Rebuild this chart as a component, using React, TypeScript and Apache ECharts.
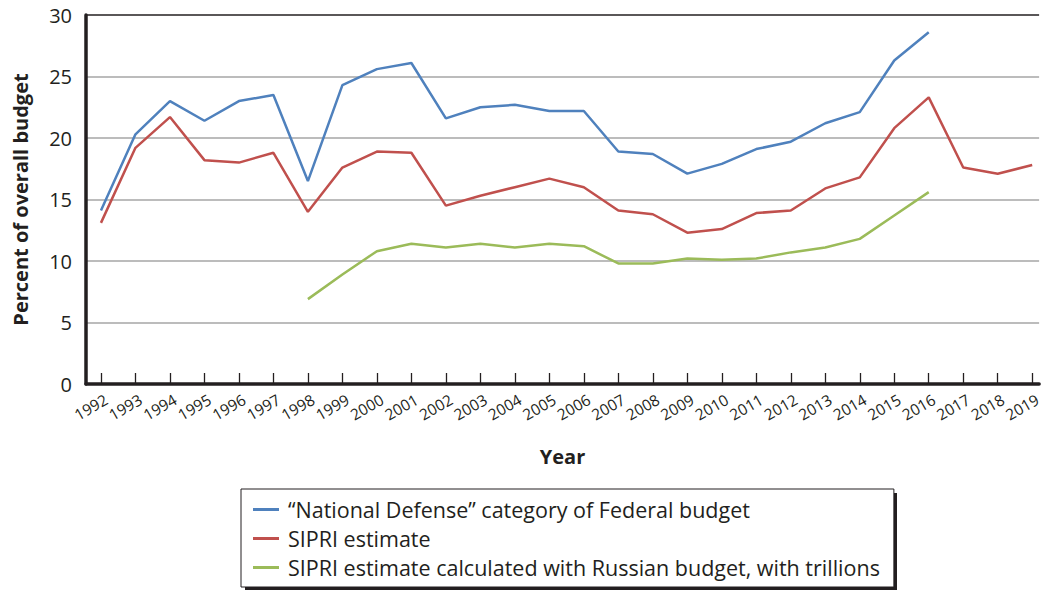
import React, { useEffect, useRef } from "react";
import * as echarts from "echarts";

const years = [
  1992, 1993, 1994, 1995, 1996, 1997, 1998, 1999, 2000, 2001, 2002, 2003, 2004, 2005,
  2006, 2007, 2008, 2009, 2010, 2011, 2012, 2013, 2014, 2015, 2016, 2017, 2018, 2019,
];

const nationalDefense = [
  14.1, 20.3, 23.0, 21.4, 23.0, 23.5, 16.5, 24.3, 25.6, 26.1, 21.6, 22.5, 22.7, 22.2,
  22.2, 18.9, 18.7, 17.1, 17.9, 19.1, 19.7, 21.2, 22.1, 26.3, 28.6, null, null, null,
];

const sipri = [
  13.1, 19.2, 21.7, 18.2, 18.0, 18.8, 14.0, 17.6, 18.9, 18.8, 14.5, 15.3, 16.0, 16.7,
  16.0, 14.1, 13.8, 12.3, 12.6, 13.9, 14.1, 15.9, 16.8, 20.8, 23.3, 17.6, 17.1, 17.8,
];

const sipriRussian = [
  null, null, null, null, null, null, 6.9, 8.9, 10.8, 11.4, 11.1, 11.4, 11.1, 11.4,
  11.2, 9.8, 9.8, 10.2, 10.1, 10.2, 10.7, 11.1, 11.8, 13.7, 15.6, null, null, null,
];

const seriesNames = [
  "\u201CNational Defense\u201D category of Federal budget",
  "SIPRI estimate",
  "SIPRI estimate calculated with Russian budget, with trillions",
];
const seriesColors = ["#4f81bd", "#c0504d", "#9bbb59"];
const yTicks = [0, 5, 10, 15, 20, 25, 30];

const FONT = "'Open Sans', 'Noto Sans', sans-serif";
const DARK = "#231f20";

export default function App() {
  const ref = useRef<HTMLDivElement>(null);

  useEffect(() => {
    if (!ref.current) return;
    const chart = echarts.init(ref.current, null, { renderer: "svg" });
    const allSeries = [nationalDefense, sipri, sipriRussian];
    chart.setOption({
      animation: false,
      textStyle: { fontFamily: FONT },
      grid: { left: 86, right: 2, top: 15, bottom: 206 },
      xAxis: {
        type: "value",
        min: 1991.566,
        max: 2019.2,
        name: "Year",
        nameLocation: "middle",
        nameGap: 62,
        nameTextStyle: { fontSize: 20, fontWeight: "bold", color: DARK, fontFamily: FONT },
        axisLine: { onZero: false, lineStyle: { color: DARK, width: 3.5 } },
        axisTick: {
          show: true,
          inside: true,
          length: 11,
          customValues: years,
          lineStyle: { color: DARK, width: 1.3 },
        },
        axisLabel: {
          customValues: years,
          rotate: 30,
          fontSize: 15.5,
          color: DARK,
          margin: 17,
          fontFamily: FONT,
          padding: [0, -6, 0, 0],
          formatter: (v: number) => String(Math.round(v)),
        },
        splitLine: { show: false },
      },
      yAxis: {
        type: "value",
        min: yTicks[0],
        max: yTicks[yTicks.length - 1],
        interval: 5,
        name: "Percent of overall budget",
        nameLocation: "middle",
        nameGap: 56,
        nameTextStyle: { fontSize: 20, fontWeight: "bold", color: DARK, fontFamily: FONT },
        axisLine: { show: true, onZero: false, lineStyle: { color: DARK, width: 3.5 } },
        axisTick: { show: false },
        axisLabel: { fontSize: 20, color: DARK, margin: 14, fontFamily: FONT },
        splitLine: {
          show: true,
          lineStyle: {
            color: ["#a6a6a6", "#a6a6a6", "#a6a6a6", "#a6a6a6", "#a6a6a6", "#a6a6a6", DARK],
            width: 1.5,
          },
        },
      },
      legend: {
        orient: "vertical",
        left: 241,
        top: 489,
        padding: [7, 14, 6, 12],
        itemWidth: 26,
        itemHeight: 3,
        itemGap: 2,
        icon: "rect",
        backgroundColor: "#fff",
        borderColor: DARK,
        borderWidth: 1,
        z: 5,
        textStyle: {
          fontSize: 21.5,
          color: DARK,
          lineHeight: 27,
          fontFamily: FONT,
          padding: [0, 0, 0, 4],
        },
        data: seriesNames,
      },
      graphic: [
        {
          type: "rect",
          left: 245,
          top: 493,
          shape: { width: 652, height: 97 },
          style: { fill: DARK },
          z: 1,
        },
      ],
      series: allSeries.map((arr, i) => ({
        name: seriesNames[i],
        type: "line",
        showSymbol: false,
        symbol: "none",
        connectNulls: false,
        color: seriesColors[i],
        lineStyle: { color: seriesColors[i], width: 2.5 },
        data: years.map((y, j) => [y, arr[j]]),
      })),
    });
    return () => chart.dispose();
  }, []);

  return (
    <div
      ref={ref}
      style={{ position: "fixed", left: 0, top: 0, width: 1044, height: 590, background: "#fff" }}
    />
  );
}
